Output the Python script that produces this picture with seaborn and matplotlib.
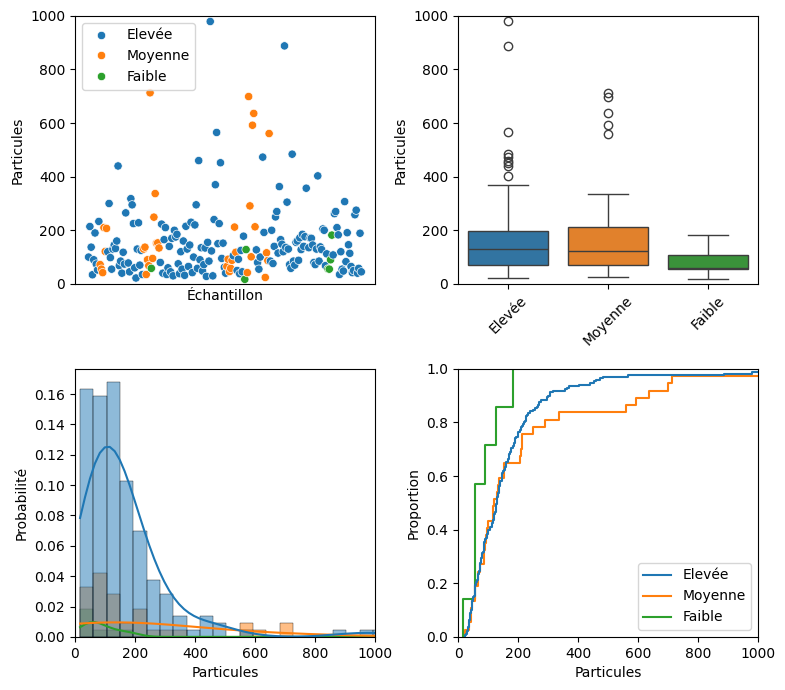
# Particules par échantillon selon le niveau de pollution

# -------------------- IMPORTS --------------------
import pandas as pd
import matplotlib
matplotlib.use("Agg")
import matplotlib.pyplot as plt
import seaborn as sns

# -------------------- DATA --------------------
niveaux = ["Elevée", "Moyenne", "Faible"]

particules = [
    100, 214, 137, 34, 90, 190, 74, 52, 233, 72,
    55, 42, 210, 121, 207, 120, 300, 98, 55, 130,
    145, 132, 160, 440, 68, 85, 40, 118, 74, 265,
    1020, 78, 45, 318, 295, 225, 60, 22, 130, 228,
    70, 125, 35, 130, 137, 35, 90, 68, 713, 58,
    95, 249, 337, 152, 153, 134, 80, 223, 40, 165,
    210, 35, 60, 140, 45, 170, 30, 200, 175, 185,
    75, 38, 120, 55, 160, 32, 215, 130, 65, 145,
    230, 42, 100, 220, 295, 58, 460, 90, 135, 48,
    72, 134, 28, 155, 85, 979, 123, 30, 240, 370,
    565, 150, 225, 452, 95, 152, 62, 40, 65, 92,
    46, 58, 88, 105, 212, 118, 50, 92, 38, 125,
    45, 178, 17, 128, 42, 699, 291, 101, 592, 636,
    213, 127, 80, 55, 100, 3300, 473, 192, 24, 116,
    87, 561, 85, 200, 76, 140, 250, 270, 115, 363,
    165, 148, 120, 888, 136, 305, 130, 72, 58, 484,
    85, 70, 155, 160, 88, 172, 128, 185, 140, 176,
    357, 1950, 135, 171, 170, 145, 80, 72, 130, 403,
    85, 138, 128, 205, 200, 68, 112, 56, 55, 90,
    182, 108, 262, 270, 210, 183, 35, 120, 55, 48,
    307, 83, 191, 146, 114, 65, 42, 50, 258, 275,
    40, 58, 189, 45,
]

# échantillons classés "Moyenne" et "Faible" (les autres sont "Elevée")
moyenne_idx = [9, 10, 11, 12, 13, 14, 43, 44, 45, 46, 47, 48, 50, 51, 52, 53,
               54, 55, 108, 109, 110, 111, 112, 114, 115, 124, 125, 126, 127,
               128, 129, 130, 135, 138, 139, 140, 141]
faible_idx = [49, 122, 123, 187, 188, 189, 190]

# -------------------- DATAFRAME --------------------
pollution = []
for i in range(len(particules)):
    if i in moyenne_idx:
        pollution.append("Moyenne")
    elif i in faible_idx:
        pollution.append("Faible")
    else:
        pollution.append("Elevée")

df = pd.DataFrame({
    "Échantillon": range(len(particules)),
    "Particules": particules,
    "Pollution": pollution,
})

# -------------------- FIGURE --------------------
fig, axes = plt.subplots(2, 2, figsize=(7.85, 6.9))
fig.subplots_adjust(left=0.0955, right=0.9656, top=0.977, bottom=0.077,
                    wspace=0.277, hspace=0.317)

# scatter
ax = axes[0, 0]
sns.scatterplot(data=df, x="Échantillon", y="Particules", hue="Pollution",
                hue_order=niveaux, ax=ax)
ax.set_ylim(0, 1000)
ax.set_xticks([])
sns.move_legend(ax, "upper left", title=None)

# boxplot
ax = axes[0, 1]
sns.boxplot(data=df, x="Pollution", y="Particules", hue="Pollution",
            order=niveaux, hue_order=niveaux, legend=False, ax=ax)
ax.set_ylim(0, 1000)
ax.set_xlabel("")
ax.tick_params(axis="x", labelrotation=45)

# histogram + kde
ax = axes[1, 0]
sns.histplot(data=df, x="Particules", hue="Pollution", hue_order=niveaux,
             stat="probability", binwidth=44.5, kde=True, legend=False, ax=ax)
ax.set_xlim(0, 1000)
ax.set_ylabel("Probabilité")

# ecdf
ax = axes[1, 1]
sns.ecdfplot(data=df, x="Particules", hue="Pollution", hue_order=niveaux, ax=ax)
ax.set_xlim(0, 1000)
sns.move_legend(ax, "lower right", title=None)

plt.savefig("out.png", dpi=100)
